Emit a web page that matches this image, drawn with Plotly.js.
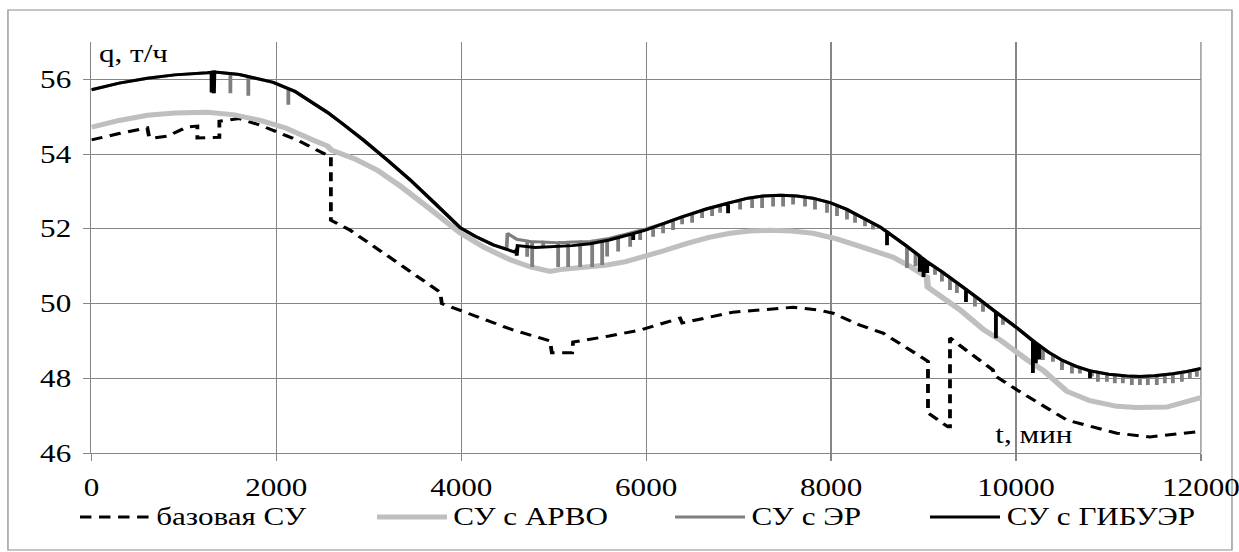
<!DOCTYPE html>
<html><head><meta charset="utf-8">
<script src="https://cdn.plot.ly/plotly-3.0.1.min.js"></script>
<style>
html,body{margin:0;padding:0;background:#fff;overflow:hidden;}
#wrap{width:1239px;height:552px;overflow:hidden;}
#chart{width:990px;height:552px;transform:scaleX(1.26947);transform-origin:0 0;}
</style></head><body><div id="wrap"><div id="chart"></div></div>
<script>
// ---- data ----
const seriesNames = ["базовая СУ", "СУ с АРВО", "СУ с ЭР", "СУ с ГИБУЭР"];
const xTickVals = [0, 2000, 4000, 6000, 8000, 10000, 12000];
const yTickVals = [46, 48, 50, 52, 54, 56];

// базовая СУ
const baseX = [0,300,605,625,660,820,1040,1146,1146,1330,1384,1384,1600,1830,2230,2551,2590,2590,2800,3290,3773,3790,4173,4550,4960,4980,5200,5210,5600,5935,6367,6390,6940,7590,7880,8021,8313,8562,8994,9048,9048,9264,9286,9286,9500,9751,9760,10010,10551,11091,11448,11956,12000];
const baseY = [54.38,54.55,54.70,54.45,54.43,54.48,54.73,54.75,54.43,54.43,54.45,54.88,54.95,54.77,54.37,53.97,53.95,52.23,51.96,51.13,50.30,50.00,49.64,49.30,49.00,48.68,48.68,48.97,49.13,49.29,49.61,49.48,49.77,49.90,49.82,49.74,49.42,49.21,48.54,48.45,47.07,46.70,46.70,49.08,48.68,48.22,48.09,47.69,46.88,46.53,46.43,46.56,46.58];

// СУ с АРВО
const arvoX = [0,300,605,900,1254,1550,1827,2100,2400,2551,2600,2850,3092,3350,3632,3800,3989,4250,4530,4750,4962,5100,5300,5578,5780,5967,6200,6443,6680,6908,7120,7340,7570,7805,8060,8313,8500,8670,8850,9037,9045,9200,9394,9650,9826,10118,10300,10551,10800,11091,11300,11631,11967,12000];
const arvoY = [54.72,54.90,55.04,55.10,55.12,55.05,54.90,54.70,54.37,54.22,54.10,53.87,53.57,53.13,52.59,52.25,51.89,51.50,51.17,50.98,50.86,50.92,50.96,51.03,51.12,51.24,51.42,51.61,51.77,51.88,51.94,51.96,51.94,51.88,51.73,51.53,51.39,51.24,51.00,50.71,50.44,50.18,49.83,49.30,49.03,48.50,48.20,47.65,47.40,47.25,47.22,47.23,47.47,47.48];

// СУ с ГИБУЭР
const gibX = [0,300,605,900,1254,1330,1600,1967,2200,2400,2550,2692,2940,3200,3448,3700,3989,4150,4346,4590,4610,4800,5037,5200,5394,5600,5751,6000,6200,6389,6650,6908,7100,7265,7450,7632,7800,7989,8170,8346,8529,8605,8800,9037,9200,9394,9600,9751,10010,10183,10350,10500,10650,10800,11000,11200,11340,11500,11697,11850,12000];
const gibY = [55.72,55.90,56.03,56.12,56.18,56.20,56.13,55.92,55.68,55.36,55.12,54.86,54.38,53.84,53.31,52.72,52.03,51.80,51.57,51.37,51.55,51.50,51.52,51.55,51.60,51.70,51.80,51.97,52.15,52.32,52.53,52.70,52.82,52.88,52.90,52.88,52.82,52.70,52.52,52.29,52.05,51.92,51.57,51.12,50.85,50.50,50.12,49.83,49.35,49.00,48.70,48.48,48.32,48.20,48.11,48.06,48.05,48.07,48.12,48.18,48.26];
const gibSpikeX = [1300,1325,4600,5860,6886,8605,8960,9000,9040,9459,9783,10183,10215,10250,10800];
const gibSpikeLow = [55.65,55.63,51.28,51.70,52.42,51.56,50.85,50.71,50.82,50.04,49.07,48.14,48.40,48.50,48.00];

// СУ с ЭР (line + downward teeth); follows ГИБУЭР except 4490-6000
const erX = [0,300,605,900,1254,1330,1600,1967,2200,2400,2550,2692,2940,3200,3448,3700,3989,4150,4346,4490,4500,4600,4750,5037,5394,5600,5751,6000,6200,6389,6650,6908,7100,7265,7450,7632,7800,7989,8170,8346,8529,8605,8800,9037,9200,9394,9600,9751,10010,10183,10350,10500,10650,10800,11000,11200,11340,11500,11697,11850,12000];
const erY = [55.72,55.90,56.03,56.12,56.18,56.20,56.13,55.92,55.68,55.36,55.12,54.86,54.38,53.84,53.31,52.72,52.03,51.80,51.57,51.45,51.88,51.72,51.66,51.63,51.66,51.74,51.84,52.00,52.15,52.32,52.53,52.70,52.82,52.88,52.90,52.88,52.82,52.70,52.52,52.29,52.05,51.92,51.57,51.12,50.85,50.50,50.12,49.83,49.35,49.00,48.70,48.48,48.32,48.20,48.11,48.06,48.05,48.07,48.12,48.18,48.26];
const erSpikeX = [1319,1503,1697,2130,
  4713,4767,4886,5048,5156,5286,5416,5524,5578,5697,5827,5935,6075,6183,6291,
  6389,6497,6605,6713,6800,7016,7146,7254,7373,7481,7589,7718,7826,7956,8064,8172,8259,8367,8453,
  8821,8913,8960,9124,9199,9286,9361,9556,9643,9859,
  10291,10399,10497,10605,10691,10821,10886,10983,11069,11156,11253,11340,11426,11523,11610,11697,11794,11880,11956];
const erSpikeLow = [55.63,55.63,55.56,55.32,
  51.25,50.98,51.50,50.98,50.98,50.98,50.98,51.03,51.26,51.39,51.52,51.70,51.79,51.88,51.97,
  52.12,52.16,52.29,52.34,52.43,52.52,52.56,52.56,52.60,52.60,52.65,52.60,52.52,52.43,52.34,52.25,52.16,52.07,51.98,
  50.95,51.00,50.90,50.77,50.59,50.36,50.28,49.92,49.78,49.43,
  48.49,48.44,48.22,48.13,48.13,48.05,47.91,47.91,47.87,47.87,47.82,47.82,47.82,47.82,47.87,47.87,47.91,48.00,48.04];

// ---- helpers: insert the read teeth into a line ----
function interp(xs, ys, x) {
  for (let k = 0; k < xs.length - 1; k++) {
    if (x >= xs[k] && x <= xs[k + 1]) {
      if (xs[k + 1] === xs[k]) return ys[k + 1];
      const t = (x - xs[k]) / (xs[k + 1] - xs[k]);
      return ys[k] + t * (ys[k + 1] - ys[k]);
    }
  }
  return ys[ys.length - 1];
}
function withSpikes(bx, by, sx, sl) {
  const sp = sx.map((x, i) => ({x: x, low: sl[i]})).sort((a, b) => a.x - b.x);
  const ox = [], oy = [];
  let j = 0;
  for (let i = 0; i < bx.length; i++) {
    while (j < sp.length && sp[j].x < bx[i]) {
      const yb = interp(bx, by, sp[j].x);
      ox.push(sp[j].x, sp[j].x, sp[j].x); oy.push(yb, sp[j].low, yb);
      j++;
    }
    ox.push(bx[i]); oy.push(by[i]);
  }
  return {x: ox, y: oy};
}

const er = withSpikes(erX, erY, erSpikeX, erSpikeLow);
const gib = withSpikes(gibX, gibY, gibSpikeX, gibSpikeLow);

const FONT = 'Liberation Serif, Times New Roman, serif';
const FS = 24.5;
const GRID = '#868686';

const styles = [
  {color: '#000000', width: 3, dash: '9px,6px'},
  {color: '#bfbfbf', width: 5, dash: 'solid'},
  {color: '#7f7f7f', width: 3, dash: 'solid'},
  {color: '#000000', width: 3, dash: 'solid'}
];

const traces = [
  {x: baseX, y: baseY, name: seriesNames[0], mode: 'lines', line: styles[0]},
  {x: arvoX, y: arvoY, name: seriesNames[1], mode: 'lines', line: styles[1]},
  {x: er.x, y: er.y, name: seriesNames[2], mode: 'lines', line: styles[2]},
  {x: gib.x, y: gib.y, name: seriesNames[3], mode: 'lines', line: styles[3]}
];

// legend (drawn as key lines + text, placed like the reference)
const legY = -0.1557;
const legLine0 = [-0.01028, 0.25741, 0.52601, 0.75582];
const legLine1 = [0.05282, 0.32050, 0.58910, 0.81891];
const legText = [0.05642, 0.32411, 0.59270, 0.82252];
const legShapes = seriesNames.map((n, i) => ({
  type: 'line', xref: 'paper', yref: 'paper', x0: legLine0[i], x1: legLine1[i], y0: legY, y1: legY,
  line: {color: styles[i].color, width: styles[i].width, dash: styles[i].dash}
}));
const legAnn = seriesNames.map((n, i) => ({
  xref: 'paper', yref: 'paper', x: legText[i], y: legY, xanchor: 'left', yanchor: 'middle',
  text: n, showarrow: false, font: {family: FONT, size: FS, color: '#000'}
}));

const layout = {
  width: 990, height: 552,
  margin: {l: 72, r: 44, t: 42, b: 99, pad: 0},
  paper_bgcolor: '#ffffff', plot_bgcolor: '#ffffff',
  font: {family: FONT, size: FS, color: '#000000'},
  showlegend: false,
  xaxis: {range: [0, 12000], tickmode: 'array', tickvals: xTickVals, ticktext: xTickVals.map(String),
          showgrid: true, gridcolor: GRID, gridwidth: 1, zeroline: false,
          showline: true, linecolor: GRID, linewidth: 1, ticklabeloverflow: 'allow',
          ticks: 'outside', ticklen: 7, tickcolor: GRID, tickwidth: 1, ticklabelstandoff: 6,
          tickfont: {family: FONT, size: FS, color: '#000'}},
  yaxis: {range: [46, 57], tickmode: 'array', tickvals: yTickVals, ticktext: yTickVals.map(String),
          showgrid: true, gridcolor: GRID, gridwidth: 1, zeroline: false,
          showline: true, linecolor: GRID, linewidth: 1, ticklabeloverflow: 'allow',
          ticks: 'outside', ticklen: 6, tickcolor: GRID, tickwidth: 1, ticklabelstandoff: 4,
          tickfont: {family: FONT, size: FS, color: '#000'}},
  annotations: [
    {xref: 'paper', yref: 'paper', x: 0.005, y: 0.973, xanchor: 'left', yanchor: 'middle',
     text: 'q, т/ч', showarrow: false, font: {family: FONT, size: FS, color: '#000'}},
    {xref: 'paper', yref: 'paper', x: 0.8126, y: 0.046, xanchor: 'left', yanchor: 'middle',
     text: 't, мин', showarrow: false, font: {family: FONT, size: FS, color: '#000'}}
  ].concat(legAnn),
  shapes: [
    {type: 'rect', xref: 'paper', yref: 'paper', x0: -0.0752, x1: 1.028, y0: -0.236, y1: 1.0779,
     line: {color: '#8c8c8c', width: 1}, fillcolor: 'rgba(0,0,0,0)', layer: 'below'},
    {type: 'line', xref: 'paper', yref: 'paper', x0: 1, x1: 1, y0: 0, y1: 1,
     line: {color: GRID, width: 1}, layer: 'below'}
  ].concat(legShapes)
};

Plotly.newPlot('chart', traces, layout, {displayModeBar: false, staticPlot: true});
</script></body></html>
